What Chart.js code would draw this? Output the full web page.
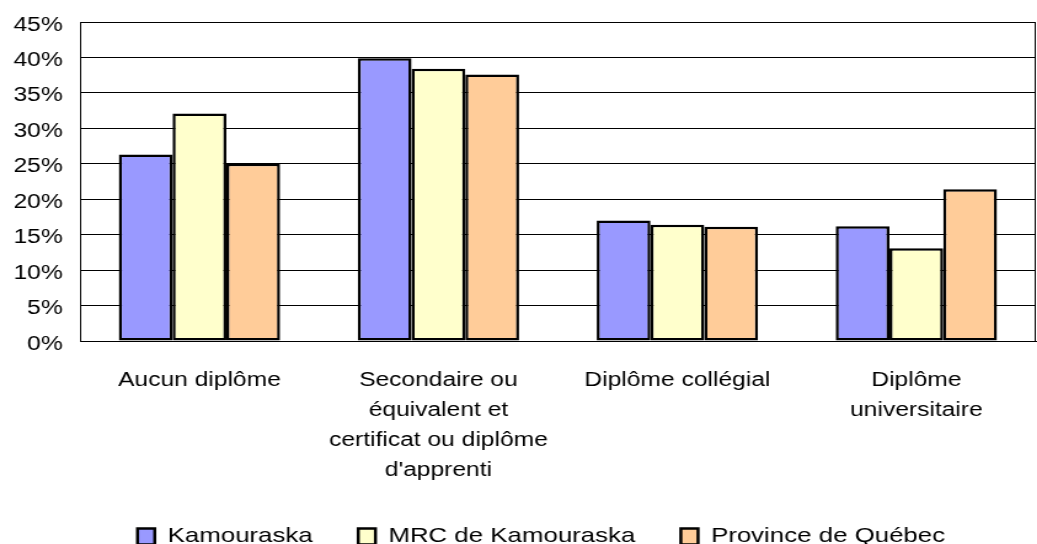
<!DOCTYPE html>
<html>
<head>
<meta charset="utf-8">
<script src="https://cdn.jsdelivr.net/npm/chart.js@4"></script>
<style>
  html, body { margin: 0; padding: 0; background: #fff; overflow: hidden; width: 1037px; height: 544px; }
  /* the reference text is drawn wide, so the chart is drawn narrower and stretched */
  #wrap { width: 843px; height: 557px; transform: scaleX(1.2302); transform-origin: 0 0; }
</style>
</head>
<body>
<div id="wrap"><canvas id="scolarite"></canvas></div>
<script>
// categories and series
const categories = [
    'Aucun diplôme',
    ['Secondaire ou', 'équivalent et', 'certificat ou diplôme', "d'apprenti"],
    'Diplôme collégial',
    ['Diplôme', 'universitaire']
];
const kamouraska = [26.3, 39.9, 17.0, 16.2];
const mrcKamouraska = [32.1, 38.4, 16.4, 13.1];
const provinceQuebec = [25.0, 37.6, 16.1, 21.4];
const yTicks = [0, 5, 10, 15, 20, 25, 30, 35, 40, 45];

const COLORS = {
    blue: '#9999FF',
    yellow: '#FFFFCC',
    orange: '#FFCC99',
};

Chart.defaults.font.family = "'Liberation Sans', Arial, sans-serif";
Chart.defaults.color = '#000';

// box round the plot area
const plotBorder = {
    id: 'plotBorder',
    afterDraw(chart) {
        const { ctx, chartArea } = chart;
        ctx.save();
        ctx.strokeStyle = '#000';
        ctx.lineWidth = 1;
        ctx.strokeRect(chartArea.left + 0.5, chartArea.top + 0.5,
            chartArea.right - chartArea.left - 1, chartArea.bottom - chartArea.top);
        ctx.restore();
    }
};

// the legend sits a little right of centre in the reference
const legendShift = {
    id: 'legendShift',
    afterLayout(chart) {
        chart.legend.left += 19;
        chart.legend.right += 19;
    }
};

const ctx = document.getElementById('scolarite');

new Chart(ctx, {
    type: 'bar',
    data: {
        labels: categories,
        datasets: [
            { label: 'Kamouraska', data: kamouraska, backgroundColor: COLORS.blue },
            { label: 'MRC de Kamouraska', data: mrcKamouraska, backgroundColor: COLORS.yellow },
            { label: 'Province de Québec', data: provinceQuebec, backgroundColor: COLORS.orange },
        ].map(ds => Object.assign(ds, { borderColor: '#000', borderWidth: 2.5, borderSkipped: false }))
    },
    options: {
        responsive: true,
        maintainAspectRatio: false,
        animation: false,
        categoryPercentage: 0.675,
        barPercentage: 1,
        layout: { padding: { top: 22, right: 1, left: 0, bottom: 0 } },
        plugins: {
            tooltip: { enabled: false },
            legend: {
                position: 'bottom',
                labels: {
                    font: { size: 21 },
                    boxWidth: 14,
                    boxHeight: 16,
                    padding: 37,
                    color: '#000',
                }
            }
        },
        scales: {
            x: {
                grid: { display: false },
                border: { display: true, color: '#000' },
                ticks: {
                    font: { size: 20, lineHeight: 1.5 },
                    maxRotation: 0,
                    autoSkip: false,
                    padding: 16,
                },
                afterFit(scale) { scale.height = 148; }
            },
            y: {
                min: 0,
                max: 45,
                afterBuildTicks(scale) { scale.ticks = yTicks.map(v => ({ value: v })); },
                grid: { color: '#000', drawTicks: false },
                border: { display: true, color: '#000' },
                ticks: {
                    font: { size: 20 },
                    padding: 14,
                    labelOffset: 3,
                    callback: v => v + '%'
                },
                afterFit(scale) {
                    scale.width = 65;
                    scale.paddingTop = 0;
                    scale.paddingBottom = 0;
                }
            }
        }
    },
    plugins: [plotBorder, legendShift]
});
</script>
</body>
</html>
